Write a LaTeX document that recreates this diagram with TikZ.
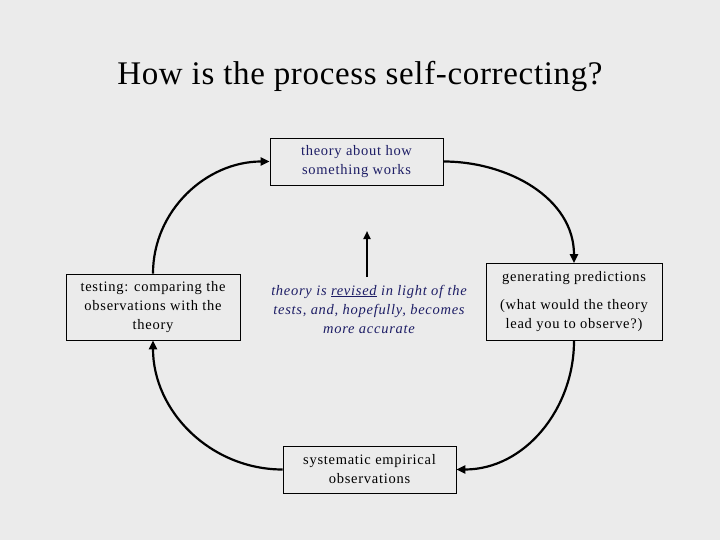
\documentclass[tikz,border=0pt]{standalone}
\usepackage{fontspec}
\setmainfont{Liberation Serif}
\newfontfamily\spacedfont[LetterSpace=5]{Liberation Serif}
\newfontfamily\titlefont[LetterSpace=2]{Liberation Serif}
\usetikzlibrary{arrows.meta}
\definecolor{bg}{HTML}{EBEBEB}
\definecolor{navy}{HTML}{1E1E66}
\begin{document}
\begin{tikzpicture}[x=1pt,y=-1pt,
  box/.style={draw=black,line width=0.8pt,fill=bg,inner sep=0pt,align=center,
    font=\spacedfont\fontsize{14.5}{19}\selectfont},
  flow/.style={line width=2.2pt,-{Triangle[length=9pt,width=8pt]}}]
\fill[bg] (0,0) rectangle (720,540);
\useasboundingbox (0,0) rectangle (720,540);
\node (title) at (360,76) {\titlefont\fontsize{33}{38}\selectfont How is the process self-correcting?};
\node[box,minimum width=173pt,minimum height=47pt,text=navy] (theory) at (356.5,161.5)
  {theory about how\\something works};
\node[box,minimum width=174pt,minimum height=66pt] (testing) at (153,307)
  {testing: comparing the\\observations with the\\theory};
\node[box,minimum width=176pt,minimum height=77pt] (predict) at (574,302)
  {generating predictions\\[9pt](what would the theory\\lead you to observe?)};
\node[box,minimum width=173pt,minimum height=47pt] (observe) at (369.5,469.5)
  {systematic empirical\\observations};
\node[align=center,inner sep=0pt,text=navy,font=\spacedfont\fontsize{14.5}{19}\selectfont\itshape] (revise) at (369,309)
  {theory is \underline{revised} in light of the\\tests, and, hopefully, becomes\\more accurate};
\coordinate (upbase) at (367,277);
\coordinate (uptip) at (367,231);
\draw[flow] (testing.north) to[out=90,in=180] (theory.west);
\draw[flow] (theory.east) to[out=0,in=90] (predict.north);
\draw[flow] (predict.south) to[out=-90,in=0] (observe.east);
\draw[flow] (observe.west) to[out=180,in=-90] (testing.south);
\draw[flow,-{Triangle[length=8pt,width=7pt]}] (upbase) -- (uptip);
\end{tikzpicture}
\end{document}
